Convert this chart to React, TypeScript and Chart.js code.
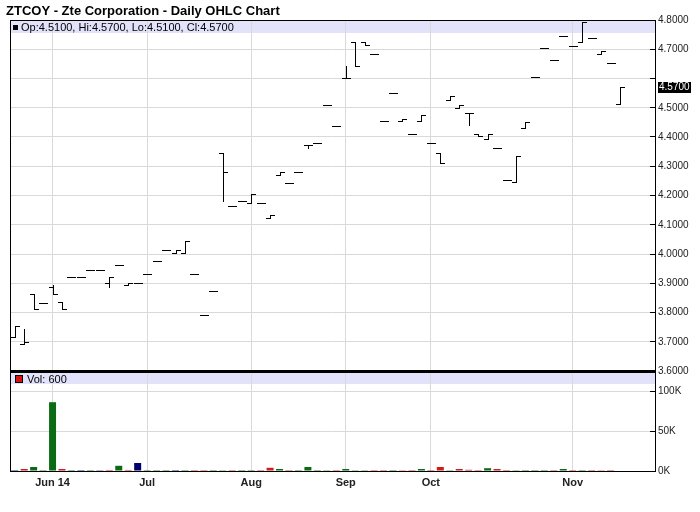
import React, { useEffect, useRef } from 'react';
import { Chart, registerables } from 'chart.js';

Chart.register(...registerables);

const TITLE = 'ZTCOY - Zte Corporation - Daily OHLC Chart';
const FONT = "'Liberation Sans', Arial, Helvetica, sans-serif";

// x positions are trading-session indices (only days with trades)
const monthTickIndex = [4, 14, 25, 35, 44, 59];
const monthTickLabels = ['Jun 14', 'Jul', 'Aug', 'Sep', 'Oct', 'Nov'];

const opens = [
  3.713, 3.69, 3.862, 3.831, 3.884, 3.833, 3.92, 3.92, 3.942, 3.942,
  3.899, 3.961, 3.891, 3.899, 3.93, 3.973, 4.012, 4.002, 4.002, 3.93,
  3.791, 3.872, 4.342, 4.161, 4.181, 4.171, 4.171, 4.123, 4.27, 4.242,
  4.28, 4.372, 4.379, 4.509, 4.437, 4.601, 4.722, 4.722, 4.682, 4.452,
  4.548, 4.452, 4.41, 4.452, 4.379, 4.342, 4.524, 4.499, 4.482, 4.41,
  4.39, 4.362, 4.252, 4.244, 4.43, 4.602, 4.701, 4.66, 4.742, 4.71,
  4.722, 4.736, 4.682, 4.651, 4.51,
];
const highs = [
  3.753, 3.742, 3.862, 3.831, 3.894, 3.833, 3.92, 3.92, 3.942, 3.942,
  3.92, 3.961, 3.899, 3.899, 3.93, 3.973, 4.012, 4.012, 4.042, 3.93,
  3.791, 3.872, 4.342, 4.161, 4.181, 4.202, 4.171, 4.133, 4.28, 4.242,
  4.28, 4.372, 4.379, 4.509, 4.437, 4.64, 4.722, 4.722, 4.682, 4.452,
  4.548, 4.461, 4.41, 4.473, 4.379, 4.342, 4.539, 4.509, 4.482, 4.41,
  4.41, 4.362, 4.252, 4.333, 4.45, 4.602, 4.701, 4.66, 4.742, 4.71,
  4.79, 4.736, 4.691, 4.651, 4.57,
];
const lows = [
  3.713, 3.69, 3.81, 3.831, 3.862, 3.81, 3.92, 3.92, 3.942, 3.942,
  3.886, 3.961, 3.891, 3.899, 3.93, 3.973, 4.012, 4.002, 4.002, 3.93,
  3.791, 3.872, 4.179, 4.161, 4.181, 4.171, 4.171, 4.123, 4.27, 4.242,
  4.28, 4.361, 4.379, 4.509, 4.437, 4.601, 4.64, 4.713, 4.682, 4.452,
  4.548, 4.452, 4.41, 4.452, 4.379, 4.311, 4.524, 4.499, 4.439, 4.4,
  4.39, 4.362, 4.252, 4.244, 4.43, 4.602, 4.701, 4.66, 4.742, 4.71,
  4.722, 4.736, 4.682, 4.651, 4.51,
];
const closes = [
  3.753, 3.699, 3.81, 3.831, 3.862, 3.81, 3.92, 3.92, 3.942, 3.942,
  3.92, 3.961, 3.899, 3.899, 3.93, 3.973, 4.012, 4.012, 4.042, 3.93,
  3.791, 3.872, 4.28, 4.161, 4.181, 4.202, 4.171, 4.133, 4.28, 4.242,
  4.28, 4.372, 4.379, 4.509, 4.437, 4.601, 4.64, 4.713, 4.682, 4.452,
  4.548, 4.461, 4.41, 4.473, 4.379, 4.311, 4.539, 4.509, 4.482, 4.4,
  4.41, 4.362, 4.252, 4.333, 4.45, 4.602, 4.701, 4.66, 4.742, 4.71,
  4.79, 4.736, 4.691, 4.651, 4.57,
];
const volumes = [
  100, 2500, 5000, 100, 86000, 2500, 100, 100, 100, 1000,
  1300, 6500, 1300, 10000, 100, 100, 100, 100, 100, 100,
  100, 100, 1000, 100, 100, 100, 100, 4000, 2500, 100,
  100, 5000, 100, 1000, 100, 2500, 1000, 1000, 100, 100,
  100, 1000, 100, 2500, 100, 5000, 1000, 2500, 1500, 100,
  3500, 2500, 100, 1000, 100, 100, 100, 100, 2500, 100,
  100, 100, 1000, 100, 600,
];

const priceTickValues = [3.6, 3.7, 3.8, 3.9, 4.0, 4.1, 4.2, 4.3, 4.4, 4.5, 4.6, 4.7, 4.8];
const volumeTickValues = [0, 50000, 100000];

const UP = '#0b6b14';
const DOWN = '#d01c1c';
const FLAT = '#00006e';
const BAND = 'rgb(226,226,250)';
const GRID = '#d9d9d9';

const last = closes.length - 1;

const panelPlugin = {
  id: 'panels',
  beforeDraw(chart: any) {
    const { ctx, chartArea: ca, scales } = chart;
    const yv = scales.yv;
    ctx.save();
    ctx.fillStyle = '#ffffff';
    ctx.fillRect(0, 0, chart.width, chart.height);
    ctx.fillStyle = BAND;
    ctx.fillRect(ca.left, ca.top, ca.right - ca.left, 13);
    ctx.fillRect(ca.left, Math.round(yv.top) + 1, ca.right - ca.left, 12);
    ctx.restore();
  },
  afterDatasetsDraw(chart: any) {
    const { ctx, scales } = chart;
    const x = scales.x;
    const y = scales.y;
    ctx.save();
    ctx.fillStyle = '#000';
    for (let i = 0; i < closes.length; i++) {
      const px = Math.round(x.getPixelForValue(i));
      const yh = Math.round(y.getPixelForValue(highs[i]) - 0.5);
      const yl = Math.round(y.getPixelForValue(lows[i]) - 0.5);
      const yo = Math.round(y.getPixelForValue(opens[i]) - 0.5);
      const yc = Math.round(y.getPixelForValue(closes[i]) - 0.5);
      ctx.fillRect(px, yh, 1, yl - yh + 1);
      ctx.fillRect(px - 4, yo, 4, 1);
      ctx.fillRect(px + 1, yc, 4, 1);
    }
    ctx.restore();
  },
  afterDraw(chart: any) {
    const { ctx, chartArea: ca, scales } = chart;
    const y = scales.y;
    const yv = scales.yv;
    const w = ca.right - ca.left;
    ctx.save();
    ctx.fillStyle = '#000';
    // frame
    ctx.fillRect(ca.left, ca.top, 1, ca.bottom - ca.top);
    ctx.fillRect(ca.left, ca.top, w, 1);
    // panel separator
    ctx.fillRect(ca.left, Math.round(y.bottom) - 1, w + 1, 3);
    // inner tick marks
    for (const sc of [y, yv]) {
      for (const t of sc.ticks) {
        const row = Math.round(sc.getPixelForValue(t.value) - 0.5);
        ctx.fillRect(ca.right - 5, row, 5, 1);
      }
    }
    // title
    ctx.fillStyle = '#000';
    ctx.textBaseline = 'alphabetic';
    ctx.textAlign = 'left';
    ctx.font = `bold 13px ${FONT}`;
    ctx.fillText(TITLE, 6, 15);
    // price legend
    ctx.fillRect(13, 25, 5, 5);
    ctx.font = `11px ${FONT}`;
    ctx.fillText(
      `Op:${opens[last].toFixed(4)}, Hi:${highs[last].toFixed(4)}, Lo:${lows[last].toFixed(4)}, Cl:${closes[last].toFixed(4)}`,
      21,
      31
    );
    // volume legend
    const vt = Math.round(yv.top);
    ctx.fillStyle = '#000';
    ctx.fillRect(15, vt + 4, 8, 8);
    ctx.fillStyle = '#dd1010';
    ctx.fillRect(16, vt + 5, 6, 6);
    ctx.fillStyle = '#000';
    ctx.fillText(`Vol: ${volumes[last]}`, 27, vt + 12);
    // last price marker
    const py = Math.round(y.getPixelForValue(closes[last]));
    ctx.fillRect(ca.right + 3, py - 5, 33, 11);
    ctx.fillStyle = '#fff';
    ctx.font = `10px ${FONT}`;
    ctx.textBaseline = 'middle';
    ctx.fillText(closes[last].toFixed(4), ca.right + 4, py + 0.5);
    ctx.restore();
  },
};

export default function App() {
  const ref = useRef<HTMLCanvasElement>(null);

  useEffect(() => {
    const canvas = ref.current;
    if (!canvas) return;
    const volColors = closes.map((c, i) => {
      const p = i > 0 ? closes[i - 1] : c;
      return c > p ? UP : c < p ? DOWN : FLAT;
    });
    const chart = new Chart(canvas, {
      type: 'bar',
      data: {
        datasets: [
          {
            type: 'bar',
            label: 'Volume',
            data: volumes.map((v, i) => ({ x: i, y: v })),
            xAxisID: 'x',
            yAxisID: 'yv',
            backgroundColor: volColors,
            borderWidth: 0,
            inflateAmount: 0,
            barThickness: 7,
          } as any,
          {
            type: 'line',
            label: 'Close',
            data: closes.map((c, i) => ({ x: i, y: c })),
            xAxisID: 'x',
            yAxisID: 'y',
            showLine: false,
            pointRadius: 0,
            pointHoverRadius: 0,
          } as any,
        ],
      },
      options: {
        responsive: false,
        animation: false,
        devicePixelRatio: 1,
        layout: { padding: { left: 10, top: 20, right: 0, bottom: 0 } },
        plugins: {
          legend: { display: false },
          tooltip: { enabled: false },
          title: { display: false },
        },
        scales: {
          x: {
            type: 'linear',
            position: 'bottom',
            min: -0.5,
            max: 67.7,
            offset: false,
            afterBuildTicks: (s: any) => {
              s.ticks = monthTickIndex.map((v) => ({ value: v }));
            },
            afterFit: (s: any) => {
              s.height = 41;
            },
            grid: { color: GRID, drawTicks: false, lineWidth: 1, offset: false },
            border: { display: true, color: '#000', width: 1 },
            ticks: {
              autoSkip: false,
              maxRotation: 0,
              padding: 5,
              color: '#222',
              font: { family: FONT, size: 11, weight: 'bold' },
              callback: (v: any) => {
                const k = monthTickIndex.indexOf(Number(v));
                return k >= 0 ? monthTickLabels[k] : '';
              },
            },
          },
          y: {
            type: 'linear',
            position: 'right',
            stack: 'panels',
            stackWeight: 351,
            min: 3.6,
            max: 4.8,
            offset: false,
            afterBuildTicks: (s: any) => {
              s.ticks = priceTickValues.map((v) => ({ value: v }));
            },
            afterFit: (s: any) => {
              s.width = 45;
            },
            grid: { color: GRID, drawTicks: false, lineWidth: 1, offset: false },
            border: { display: true, color: '#000', width: 1 },
            ticks: {
              autoSkip: false,
              padding: 3,
              color: '#222',
              font: { family: FONT, size: 10 },
              callback: (v: any) =>
                Math.abs(Number(v) - closes[last]) < 0.04 ? '' : Number(v).toFixed(4),
            },
          },
          yv: {
            type: 'linear',
            position: 'right',
            stack: 'panels',
            stackWeight: 100,
            min: 0,
            max: 125000,
            offset: false,
            afterBuildTicks: (s: any) => {
              s.ticks = volumeTickValues.map((v) => ({ value: v }));
            },
            afterFit: (s: any) => {
              s.width = 45;
            },
            grid: { color: GRID, drawTicks: false, lineWidth: 1, offset: false },
            border: { display: true, color: '#000', width: 1 },
            ticks: {
              autoSkip: false,
              padding: 3,
              color: '#222',
              font: { family: FONT, size: 10 },
              callback: (v: any) => `${Math.round(Number(v) / 1000)}K`,
            },
          },
        } as any,
      },
      plugins: [panelPlugin],
    });
    return () => chart.destroy();
  }, []);

  return (
    <div style={{ position: 'absolute', left: 0, top: 0, width: 700, height: 512, background: '#fff' }}>
      <canvas ref={ref} width={700} height={512} style={{ display: 'block', width: 700, height: 512 }} />
    </div>
  );
}
